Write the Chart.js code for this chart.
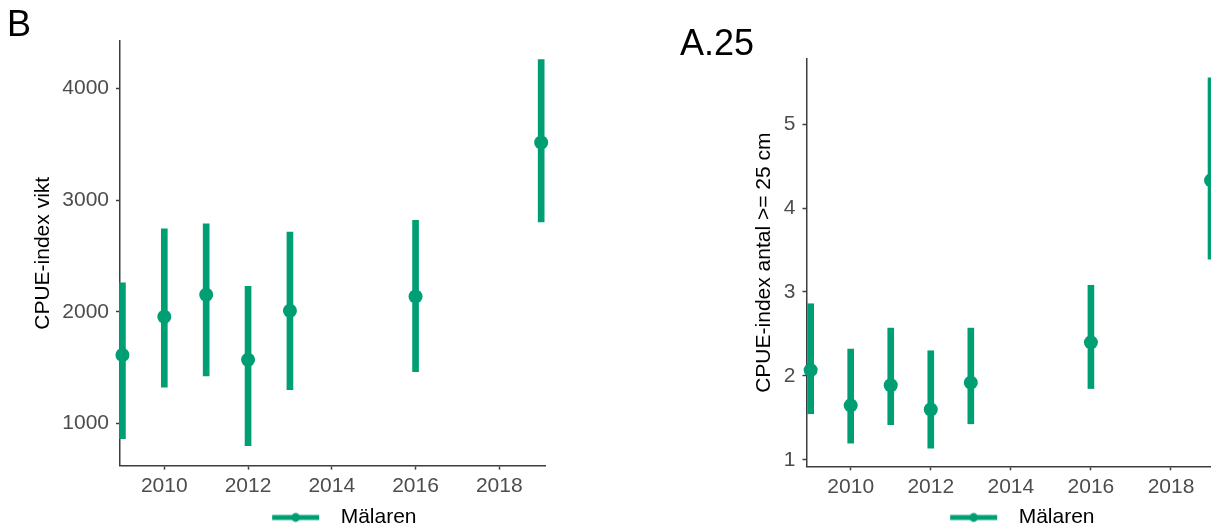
<!DOCTYPE html>
<html>
<head>
<meta charset="utf-8">
<script src="https://cdn.jsdelivr.net/npm/chart.js@4.4.1/dist/chart.umd.min.js"></script>
<style>
  html, body { margin: 0; padding: 0; background: #ffffff; }
  body { width: 1211px; height: 531px; overflow: hidden; position: relative; }
  .panel { position: absolute; top: 0; }
</style>
</head>
<body>
<div class="panel" style="left:0px;"><canvas id="c1" width="600" height="538"></canvas></div>
<div class="panel" style="left:670px;"><canvas id="c2" width="560" height="538"></canvas></div>
<script>
// ---- data ----
const years = [2009, 2010, 2011, 2012, 2013, 2016, 2019];
const seriesName = 'Mälaren';

const viktMean = [1612, 1955, 2152, 1570, 2009, 2136, 3515];
const viktLow  = [864, 1324, 1424, 800, 1303, 1464, 2803];
const viktHigh = [2258, 2742, 2788, 2227, 2712, 2818, 4258];

const antalMean = [2.07, 1.65, 1.89, 1.60, 1.92, 2.40, 4.33];
const antalLow  = [1.55, 1.20, 1.42, 1.14, 1.43, 1.85, 3.39];
const antalHigh = [2.86, 2.32, 2.57, 2.30, 2.57, 3.08, 5.55];

const xTicks = [2010, 2012, 2014, 2016, 2018];
const viktTicks = [1000, 2000, 3000, 4000];
const antalTicks = [1, 2, 3, 4, 5];

// ---- styling ----
const GREEN = '#009E73';
const FONT = "'Liberation Sans', Arial, Helvetica, sans-serif";
const AXIS = '#3d3d3d';
const TICKTXT = '#4d4d4d';

Chart.defaults.font.family = FONT;

function legendKey(color) {
  const c = document.createElement('canvas');
  c.width = 81; c.height = 14;
  const g = c.getContext('2d');
  g.fillStyle = color;
  g.fillRect(23, 4.5, 47, 5);
  g.beginPath();
  g.arc(23 + 23.5, 7, 4.4, 0, Math.PI * 2);
  g.fill();
  return c;
}

function makePanel(id, p) {
  const key = legendKey(GREEN);
  const bars = years.map((y, i) => ({ x: y, y: [p.low[i], p.high[i]] }));
  const pts = years.map((y, i) => ({ x: y, y: p.mean[i] }));
  return new Chart(document.getElementById(id), {
    type: 'scatter',
    data: {
      datasets: [
        {
          type: 'bar',
          label: seriesName,
          data: bars,
          backgroundColor: GREEN,
          borderWidth: 0,
          barThickness: 6,
          order: 1,
          clip: false
        },
        {
          type: 'scatter',
          label: seriesName,
          data: pts,
          backgroundColor: GREEN,
          borderColor: GREEN,
          borderWidth: 0,
          pointRadius: 7,
          pointHoverRadius: 7,
          showLine: false,
          order: 0,
          clip: false
        }
      ]
    },
    options: {
      responsive: false,
      animation: false,
      devicePixelRatio: 1,
      layout: { padding: p.pad },
      plugins: {
        tooltip: { enabled: false },
        title: {
          display: true,
          text: p.title,
          align: 'start',
          color: '#000',
          font: { size: 36, weight: 'normal', lineHeight: 1 },
          padding: p.titlePad
        },
        legend: {
          display: true,
          position: 'bottom',
          fullSize: false,
          align: 'center',
          labels: {
            usePointStyle: true,
            pointStyleWidth: 81,
            padding: 8,
            color: '#000',
            font: { size: 21 },
            generateLabels: () => [{
              text: seriesName,
              pointStyle: key,
              fillStyle: GREEN,
              strokeStyle: 'transparent',
              lineWidth: 0,
              hidden: false,
              datasetIndex: 1,
              fontColor: '#000'
            }]
          }
        }
      },
      scales: {
        x: {
          type: 'linear',
          position: 'bottom',
          min: p.xMin,
          max: p.xMax,
          offset: false,
          afterBuildTicks: s => { s.ticks = xTicks.map(v => ({ value: v })); },
          afterFit: s => { s.height = p.xH; },
          ticks: {
            color: TICKTXT,
            font: { size: 21 },
            padding: 4,
            maxRotation: 0,
            autoSkip: false,
            callback: v => String(v)
          },
          grid: {
            display: true,
            drawOnChartArea: false,
            drawTicks: true,
            tickLength: 4,
            tickColor: AXIS,
            tickWidth: 1.5,
            offset: false
          },
          border: { display: true, color: AXIS, width: 1.5 }
        },
        y: {
          type: 'linear',
          position: 'left',
          min: p.yMin,
          max: p.yMax,
          afterBuildTicks: s => { s.ticks = p.yTicks.map(v => ({ value: v })); },
          afterFit: s => { s.width = p.yW; },
          ticks: {
            color: TICKTXT,
            font: { size: 21 },
            padding: 7,
            autoSkip: false,
            callback: v => String(v)
          },
          grid: {
            display: true,
            drawOnChartArea: false,
            drawTicks: true,
            tickLength: 4,
            tickColor: AXIS,
            tickWidth: 1.5
          },
          border: { display: true, color: AXIS, width: 1.5 },
          title: {
            display: true,
            text: p.yTitle,
            color: '#000',
            font: { size: 21 },
            padding: { top: p.yTitlePad, bottom: 0 }
          }
        }
      }
    }
  });
}

makePanel('c1', {
  title: 'B',
  yTitle: 'CPUE-index vikt',
  mean: viktMean, low: viktLow, high: viktHigh,
  yTicks: viktTicks, yMin: 622, yMax: 4424,
  xMin: 2008.942, xMax: 2019.108,
  pad: { left: 7, right: 54.3, top: 0, bottom: 0 },
  titlePad: { top: 8, bottom: -3 },
  yW: 113, xH: 33.4, yTitlePad: 23.7
});

makePanel('c2', {
  title: 'A.25',
  yTitle: 'CPUE-index antal >= 25 cm',
  mean: antalMean, low: antalLow, high: antalHigh,
  yTicks: antalTicks, yMin: 0.924, yMax: 5.775,
  xMin: 2008.896, xMax: 2019.104,
  pad: { left: 10, right: 14.8, top: 0, bottom: 0 },
  titlePad: { top: 27, bottom: -4 },
  yW: 126.5, xH: 32.7, yTitlePad: 72
});
</script>
</body>
</html>
